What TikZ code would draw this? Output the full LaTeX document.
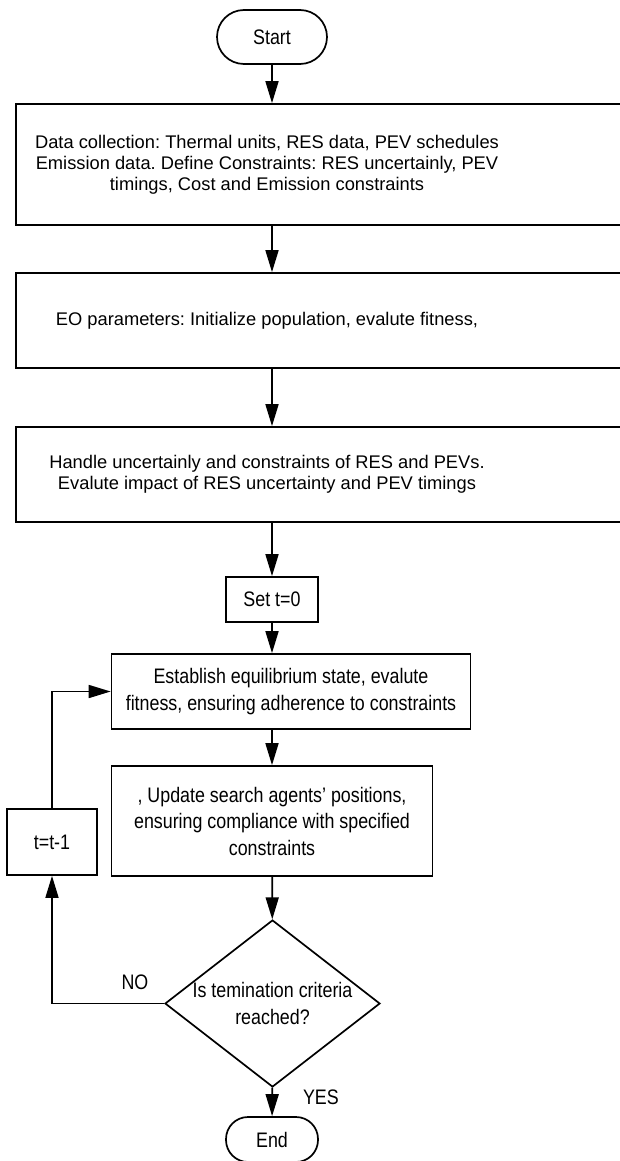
\documentclass[tikz,border=0pt]{standalone}
\usepackage{fontspec}
\setmainfont{Liberation Sans}
\newfontfamily\tallfont[FakeStretch=0.85]{Liberation Sans}
\usetikzlibrary{arrows.meta, positioning, calc, shapes}
\frenchspacing

\begin{document}
\begin{tikzpicture}[x=1pt, y=-1pt, line width=1.7pt,
    every node/.style={font=\tallfont\fontsize{21}{26.5}\selectfont},
    wide/.style={font=\fontsize{18.3}{21}\selectfont},
    procbox/.style={draw, rectangle, align=center, inner sep=0pt},
    termbox/.style={draw, rounded corners=22pt, minimum width=92pt, minimum height=45pt},
    decbox/.style={draw, diamond, aspect=1.29, inner sep=-3pt, align=center, minimum width=215pt, minimum height=167pt},
    flow/.style={-{Triangle[length=22pt, width=13pt]}}]
  \useasboundingbox (0,0) rectangle (620,1161);

  \node[termbox, minimum width=110pt, minimum height=54pt, rounded corners=27pt] (start) at (272,37) {Start};

  \node[procbox, minimum width=608pt, minimum height=121pt, label={[wide, align=center, xshift=-53pt]center:{Data collection: Thermal units, RES data, PEV schedules\\Emission data. Define Constraints: RES uncertainly, PEV\\timings, Cost and Emission constraints}}] (data) at (320,164.5) {};
  \node[procbox, minimum width=608pt, minimum height=95pt, label={[wide, xshift=-53pt]center:{EO parameters: Initialize population, evalute fitness,}}] (eo) at (320,320.5) {};
  \node[procbox, minimum width=608pt, minimum height=95pt, label={[wide, align=center, xshift=-53pt]center:{Handle uncertainly and constraints of RES and PEVs.\\Evalute impact of RES uncertainty and PEV timings}}] (res) at (320,474.5) {};

  \node[procbox, minimum width=92pt, minimum height=45pt] (sett) at (272,599.5) {Set t=0};
  \node[procbox, minimum width=359pt, minimum height=75pt] (equil) at (291,691.5) {Establish equilibrium state, evalute\\fitness, ensuring adherence to constraints};
  \node[procbox, minimum width=321pt, minimum height=110pt] (update) at (272,821) {, Update search agents’ positions,\\ensuring compliance with specified\\constraints};
  \node[procbox, minimum width=90pt, minimum height=66pt] (tdec) at (52,842) {t=t-1};

  \node[decbox] (check) at (272.5,1003.5) {Is temination criteria\\reached?};
  \node[termbox] (stop) at (272,1139.5) {End};

  \draw[flow] (start) -- (start |- data.north);
  \draw[flow] (start |- data.south) -- (start |- eo.north);
  \draw[flow] (start |- eo.south) -- (start |- res.north);
  \draw[flow] (start |- res.south) -- (sett);
  \draw[flow] (sett) -- (sett |- equil.north);
  \draw[flow] (sett |- equil.south) -- (update);
  \draw[flow] (update) -- (check);
  \draw[flow] (check) -- (stop) node[pos=0.35, right=30pt, inner sep=0pt] {YES};
  \draw[flow] (check.west) -| (tdec) node[pos=0.13, above=13pt, inner sep=0pt] {NO};
  \draw[flow] (tdec) |- (equil);
\end{tikzpicture}
\end{document}
